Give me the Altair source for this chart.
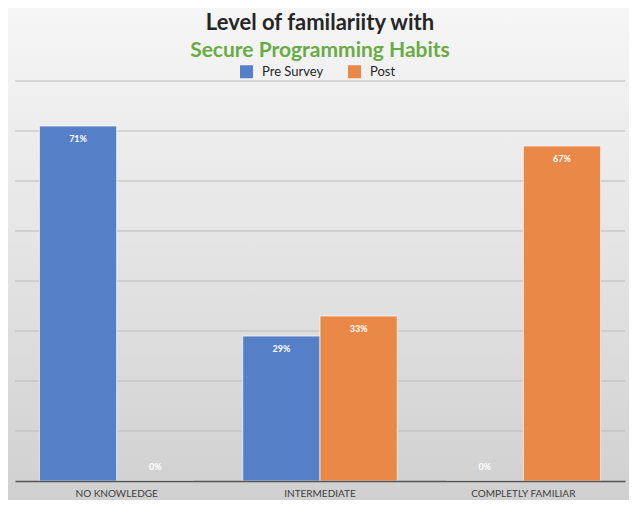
import altair as alt
import pandas as pd

title_line1 = "Level of familariity with"
title_line2 = "Secure Programming Habits"
categories = ["NO KNOWLEDGE", "INTERMEDIATE", "COMPLETLY FAMILIAR"]
series = ["Pre Survey", "Post"]
pre_values = [71, 29, 0]
post_values = [0, 33, 67]
grid_values = [10, 20, 30, 40, 50, 60, 70, 80]

rows = []
for c, p, q in zip(categories, pre_values, post_values):
    rows.append({"category": c, "series": "Pre Survey", "value": p, "label": f"{p}%"})
    rows.append({"category": c, "series": "Post", "value": q, "label": f"{q}%"})
df = pd.DataFrame(rows)
grid_df = pd.DataFrame({"g": grid_values})

FONT = "Lato"
W, H = 610, 400
yscale = alt.Scale(domain=[0, 80], nice=False)

bg = alt.Chart(alt.Data(values=[{}])).mark_rect(
    fill=alt.LinearGradient(
        gradient="linear",
        stops=[alt.GradientStop(color="#f6f6f6", offset=0),
               alt.GradientStop(color="#e6e6e6", offset=0.45),
               alt.GradientStop(color="#d0d0d0", offset=1)],
        x1=0, x2=0, y1=0, y2=1),
    clip=False,
).encode(x=alt.value(-7), x2=alt.value(W + 4), y=alt.value(-73), y2=alt.value(H + 19))

title1 = alt.Chart(alt.Data(values=[{"t": title_line1}])).mark_text(
    font=FONT, fontSize=22, fontWeight="bold", color="#262626",
    align="center", baseline="alphabetic",
).encode(x=alt.value(W / 2), y=alt.value(-51), text="t:N")

title2 = alt.Chart(alt.Data(values=[{"t": title_line2}])).mark_text(
    font=FONT, fontSize=21, fontWeight="bold", color="#6aab45",
    align="center", baseline="alphabetic",
).encode(x=alt.value(W / 2), y=alt.value(-24), text="t:N")

grid = alt.Chart(grid_df).mark_rule(color="#bcbcbc", strokeWidth=1).encode(
    y=alt.Y("g:Q", scale=yscale, axis=None),
)

base = alt.Chart(df)

x_enc = alt.X("category:N", sort=categories,
              scale=alt.Scale(paddingInner=0.24, paddingOuter=0.12),
              axis=alt.Axis(title=None, labelAngle=0, ticks=False, domain=True,
                            domainColor="#555555", domainWidth=1.5,
                            labelFont=FONT, labelFontSize=10, labelColor="#404040",
                            labelPadding=7, zindex=1))
xo = alt.XOffset("series:N", sort=series)

bars = base.mark_bar(stroke="#f4f4f4", strokeWidth=0.8).encode(
    x=x_enc,
    xOffset=xo,
    y=alt.Y("value:Q", scale=yscale, axis=None),
    color=alt.Color("series:N", sort=series,
                    scale=alt.Scale(domain=series, range=["#5580c8", "#ea8848"]),
                    legend=alt.Legend(title=None, orient="none", legendX=225, legendY=-16,
                                      direction="horizontal", symbolType="square",
                                      symbolSize=169, symbolStrokeWidth=0,
                                      labelFont=FONT, labelFontSize=13, labelColor="#262626",
                                      labelOffset=9, columnPadding=24)),
)

labels_pos = base.transform_filter("datum.value > 0").mark_text(
    color="white", font=FONT, fontWeight="bold", fontSize=9, baseline="middle", dy=13
).encode(x=x_enc, xOffset=xo, y=alt.Y("value:Q", scale=yscale), text="label:N")

labels_zero = base.transform_filter("datum.value == 0").mark_text(
    color="white", font=FONT, fontWeight="bold", fontSize=9, baseline="middle", dy=-14
).encode(x=x_enc, xOffset=xo, y=alt.Y("value:Q", scale=yscale), text="label:N")

chart = alt.layer(bg, title1, title2, grid, bars, labels_pos, labels_zero).properties(
    width=W, height=H,
    autosize=alt.AutoSizeParams(type="none"),
    padding={"left": 7, "top": 73, "right": 4, "bottom": 19},
    background="#dedede",
).configure_view(stroke=None)

chart.save("out.html", embed_options={"renderer": "svg", "actions": False})
